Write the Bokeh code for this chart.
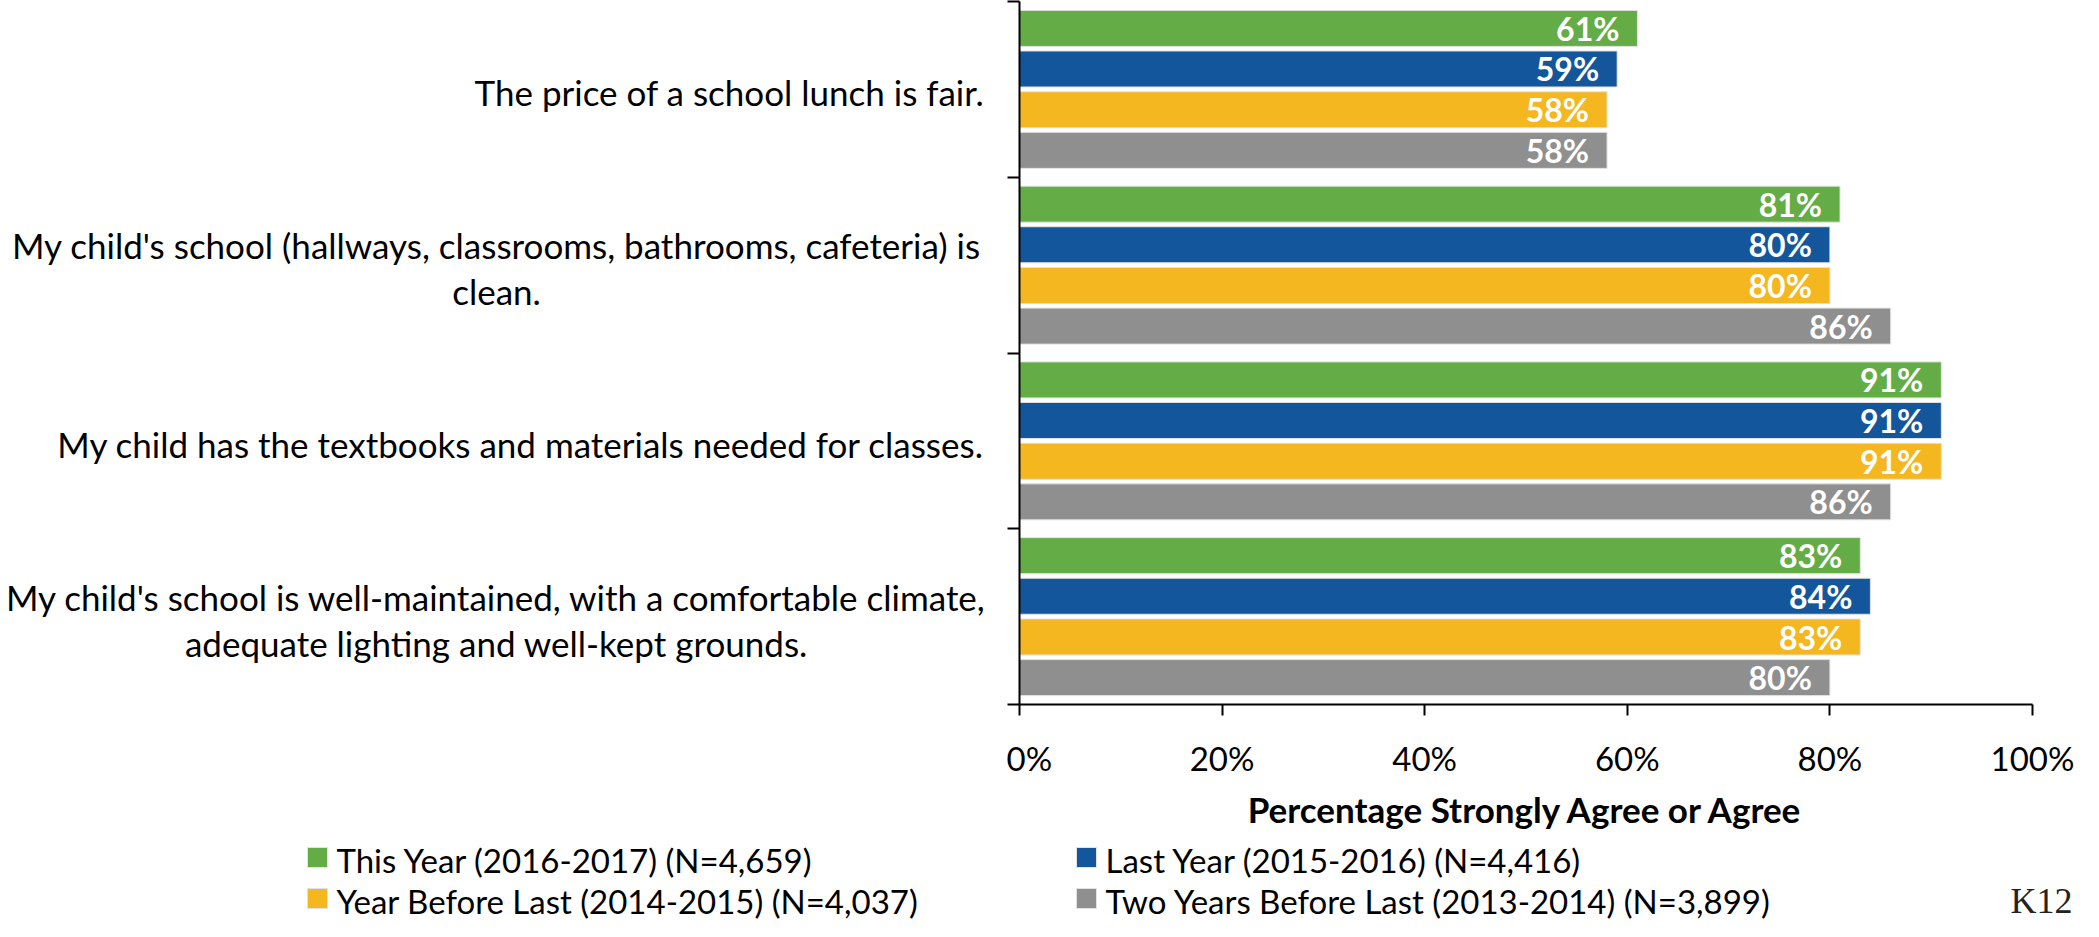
from bokeh.plotting import figure
from bokeh.layouts import row, column
from bokeh.models import (ColumnDataSource, Range1d, FixedTicker, LabelSet, Label,
                          CustomJSTickFormatter, PrintfTickFormatter)
from bokeh.core.properties import value
from bokeh.embed import file_html
from bokeh.resources import INLINE

# ---------------- data ----------------
categories = [
    "The price of a school lunch is fair.",
    "My child's school (hallways, classrooms, bathrooms, cafeteria) is\nclean.",
    "My child has the textbooks and materials needed for classes.",
    "My child's school is well-maintained, with a comfortable climate,\nadequate lighting and well-kept grounds.",
]
series_names = [
    "This Year (2016-2017) (N=4,659)",
    "Last Year (2015-2016) (N=4,416)",
    "Year Before Last (2014-2015) (N=4,037)",
    "Two Years Before Last (2013-2014) (N=3,899)",
]
this_year = [61, 81, 91, 83]
last_year = [59, 80, 91, 84]
year_before_last = [58, 80, 91, 83]
two_years_before_last = [58, 86, 86, 80]
x_ticks = [0, 20, 40, 60, 80, 100]
x_title = "Percentage Strongly Agree or Agree"
footer_text = "K12"

# ---------------- style / layout ----------------
series_values = [this_year, last_year, year_before_last, two_years_before_last]
colors = ["#64AC45", "#14569B", "#F4B720", "#8F8F8F"]
offsets = [-0.347, -0.116, 0.116, 0.347]
FONT = "Lato"

TOTAL_W, TOTAL_H = 2083, 921
LABEL_W = 1006
CHART_H = 837
TOP, BOTTOM = 1, 133

y_range = Range1d(len(categories), 0)

# ---- category label panel ----
lab = figure(width=LABEL_W, height=CHART_H, output_backend="svg", toolbar_location=None,
             x_range=Range1d(0, LABEL_W), y_range=y_range,
             x_axis_type=None, y_axis_type=None,
             min_border_left=0, min_border_right=0, min_border_top=TOP,
             min_border_bottom=BOTTOM)
lab.outline_line_color = None
lab.grid.visible = False
multi = ["\n" in c for c in categories]
lab_src = ColumnDataSource(dict(
    x=[496 if m else 984 for m in multi],
    y=[i + 0.5 for i in range(len(categories))],
    t=categories,
    a=["center" if m else "right" for m in multi],
))
lab.text(x="x", y="y", text="t", source=lab_src, text_align="a", text_baseline="middle",
         text_font=value(FONT), text_font_size="35px", text_line_height=1.1,
         text_color="black", y_offset=3)

# ---- chart ----
p = figure(width=TOTAL_W - LABEL_W, height=CHART_H, output_backend="svg",
           toolbar_location=None, x_range=Range1d(0, 100), y_range=y_range,
           min_border_left=13, min_border_right=51, min_border_top=TOP,
           min_border_bottom=BOTTOM)
p.outline_line_color = None
p.grid.visible = False

for j, (vals, color) in enumerate(zip(series_values, colors)):
    ys = [i + 0.5 + offsets[j] for i in range(len(categories))]
    src = ColumnDataSource(dict(y=ys, v=vals, t=[f"{v}%" for v in vals]))
    p.hbar(y="y", left=0, right="v", height=0.205, source=src,
           fill_color=color, line_color="#e2e2e2", line_width=1)
    p.add_layout(LabelSet(x="v", y="y", text="t", source=src, x_offset=-18,
                          text_align="right", text_baseline="middle",
                          text_color="white", text_font=value(FONT),
                          text_font_style="bold", text_font_size="32px"))

xa = p.xaxis[0]
xa.ticker = FixedTicker(ticks=x_ticks)
xa.formatter = PrintfTickFormatter(format="%d%%")
xa.major_tick_in = 0
xa.major_tick_out = 11
xa.minor_tick_line_color = None
xa.axis_line_width = 2
xa.major_tick_line_width = 2
xa.axis_line_color = "black"
xa.major_tick_line_color = "black"
xa.major_label_text_font = FONT
xa.major_label_text_font_size = "33px"
xa.major_label_text_color = "black"
xa.major_label_standoff = 22
xa.axis_label = x_title
xa.axis_label_text_font = FONT
xa.axis_label_text_font_style = "bold"
xa.axis_label_text_font_size = "35px"
xa.axis_label_text_color = "black"
xa.axis_label_standoff = 7

ya = p.yaxis[0]
ya.ticker = FixedTicker(ticks=list(range(len(categories) + 1)))
ya.formatter = CustomJSTickFormatter(code="return ''")
ya.major_label_standoff = 0
ya.major_tick_in = 0
ya.major_tick_out = 12
ya.minor_tick_line_color = None
ya.axis_line_width = 2
ya.major_tick_line_width = 2
ya.axis_line_color = "black"
ya.major_tick_line_color = "black"

# ---- legend panel (swatches + labels, 2 columns x 2 rows) ----
LEG_H = TOTAL_H - CHART_H
leg = figure(width=TOTAL_W, height=LEG_H, output_backend="svg", toolbar_location=None,
             x_range=Range1d(0, TOTAL_W), y_range=Range1d(LEG_H, 0),
             x_axis_type=None, y_axis_type=None, min_border=0)
leg.outline_line_color = None
leg.grid.visible = False
col_x = [307, 1076]
row_y = [20, 61]
leg_src = ColumnDataSource(dict(
    sx=[col_x[k % 2] + 10 for k in range(len(series_names))],
    tx=[col_x[k % 2] + 29 for k in range(len(series_names))],
    y=[row_y[k // 2] for k in range(len(series_names))],
    name=series_names,
    color=colors,
))
leg.rect(x="sx", y="y", width=20, height=20, source=leg_src,
         fill_color="color", line_color="#e2e2e2", line_width=1)
leg.text(x="tx", y="y", text="name", source=leg_src, text_baseline="middle",
         text_align="left", text_font=value(FONT), text_font_size="33px",
         text_color="black", y_offset=2)
leg.add_layout(Label(x=2010, y=41, x_units="screen", y_units="screen",
                     text=footer_text, text_baseline="top",
                     text_font="Liberation Serif", text_font_size="36px",
                     text_color="#222222"))

layout = column(row(lab, p), leg)
open("out.html", "w").write(file_html(layout, INLINE))
